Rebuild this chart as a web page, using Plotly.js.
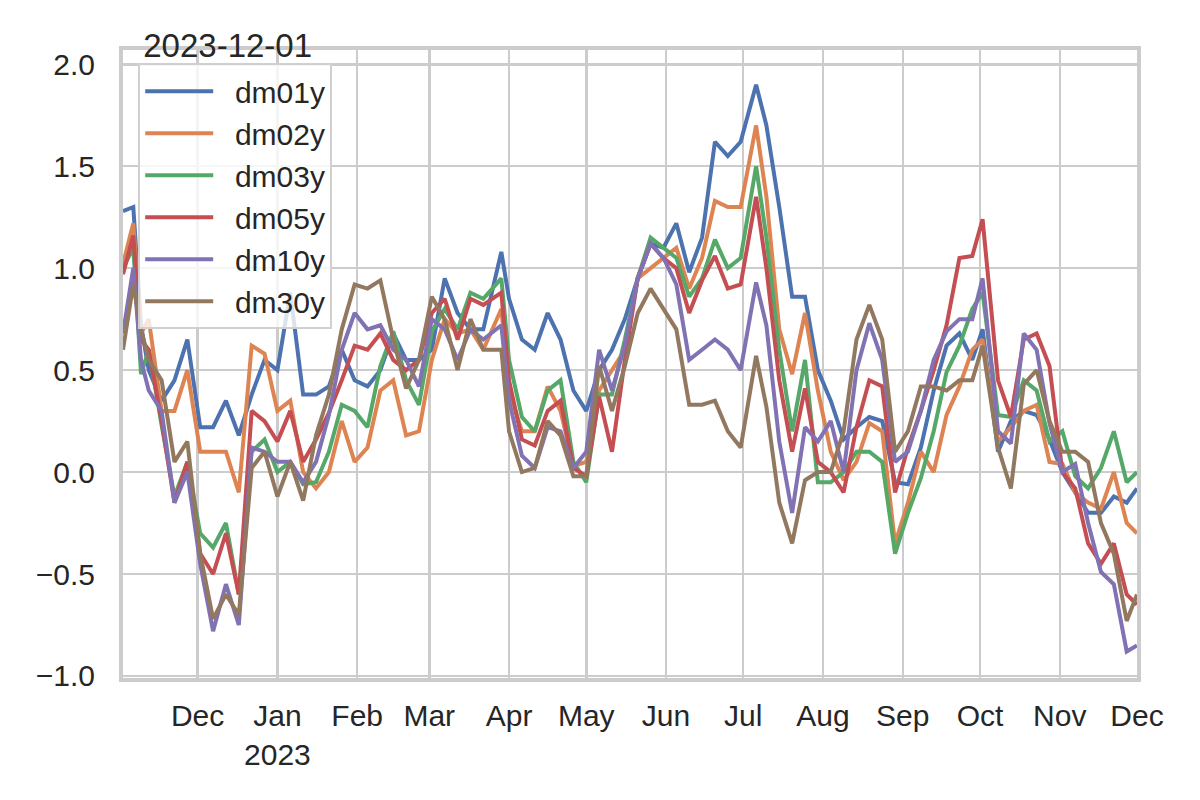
<!DOCTYPE html>
<html>
<head>
<meta charset="utf-8">
<script src="https://cdn.plot.ly/plotly-3.0.1.min.js"></script>
<style>
	html, body { margin: 0; padding: 0; background: #ffffff; }
	#chart { width: 1200px; height: 800px; }
</style>
</head>
<body>
<div id="chart"></div>
<script>
'use strict';

// sample dates (roughly every 5 days)
var dates = ['2022-11-02', '2022-11-06', '2022-11-09', '2022-11-12', '2022-11-17', '2022-11-22', '2022-11-27',
	'2022-12-02', '2022-12-07', '2022-12-12', '2022-12-17', '2022-12-22', '2022-12-27',
	'2023-01-01', '2023-01-06', '2023-01-11', '2023-01-16', '2023-01-21', '2023-01-26', '2023-01-31',
	'2023-02-05', '2023-02-10', '2023-02-15', '2023-02-20', '2023-02-25',
	'2023-03-02', '2023-03-07', '2023-03-12', '2023-03-17', '2023-03-22', '2023-03-29',
	'2023-04-01', '2023-04-06', '2023-04-11', '2023-04-16', '2023-04-21', '2023-04-26',
	'2023-05-01', '2023-05-06', '2023-05-11', '2023-05-16', '2023-05-21', '2023-05-26', '2023-05-31',
	'2023-06-05', '2023-06-10', '2023-06-15', '2023-06-20', '2023-06-25', '2023-06-30',
	'2023-07-06', '2023-07-10', '2023-07-15', '2023-07-20', '2023-07-25', '2023-07-30',
	'2023-08-04', '2023-08-09', '2023-08-14', '2023-08-19', '2023-08-24', '2023-08-29',
	'2023-09-03', '2023-09-08', '2023-09-13', '2023-09-18', '2023-09-23', '2023-09-28',
	'2023-10-02', '2023-10-08', '2023-10-13', '2023-10-18', '2023-10-23', '2023-10-28',
	'2023-11-02', '2023-11-07', '2023-11-12', '2023-11-17', '2023-11-22', '2023-11-27', '2023-12-01'];

var dm01y = [1.28, 1.3, 0.72, 0.5, 0.35, 0.45, 0.65,
	0.22, 0.22, 0.35, 0.18, 0.38, 0.55,
	0.5, 0.88, 0.38, 0.38, 0.42, 0.6, 0.45,
	0.42, 0.5, 0.68, 0.55, 0.55,
	0.6, 0.95, 0.78, 0.7, 0.7, 1.08,
	0.85, 0.65, 0.6, 0.78, 0.65, 0.4,
	0.3, 0.5, 0.6, 0.75, 0.95, 1.12, 1.1,
	1.22, 0.98, 1.15, 1.62, 1.55, 1.62,
	1.9, 1.7, 1.3, 0.86, 0.86, 0.5,
	0.35, 0.16, 0.22, 0.27, 0.25, -0.05,
	-0.06, 0.12, 0.4, 0.62, 0.68, 0.55,
	0.7, 0.1, 0.25, 0.3, 0.28, 0.16,
	0.0, -0.1, -0.2, -0.2, -0.12, -0.15, -0.08];

var dm02y = [1.02, 1.22, 0.68, 0.75, 0.3, 0.3, 0.5,
	0.1, 0.1, 0.1, -0.1, 0.62, 0.58,
	0.3, 0.35, 0.0, -0.08, 0.0, 0.25, 0.05,
	0.12, 0.4, 0.45, 0.18, 0.2,
	0.55, 0.75, 0.68, 0.7, 0.6, 0.8,
	0.4, 0.2, 0.2, 0.42, 0.3, 0.03,
	0.05, 0.4, 0.5, 0.6, 0.95, 1.0, 1.05,
	1.1, 0.9, 1.05, 1.33, 1.3, 1.3,
	1.7, 1.35, 0.7, 0.48, 0.78, 0.4,
	0.1, -0.04, 0.05, 0.24, 0.2, -0.35,
	-0.15, 0.1, 0.0, 0.28, 0.42, 0.6,
	0.65, 0.15, 0.22, 0.3, 0.33, 0.05,
	0.04, -0.1, -0.15, -0.18, 0.0, -0.25, -0.3];

var dm03y = [1.0, 1.1, 0.48, 0.6, 0.23, -0.12, 0.05,
	-0.3, -0.37, -0.25, -0.6, 0.1, 0.16,
	0.0, 0.05, -0.06, -0.05, 0.1, 0.33, 0.3,
	0.22, 0.52, 0.69, 0.45, 0.33,
	0.69, 0.8, 0.7, 0.88, 0.85, 0.95,
	0.55, 0.27, 0.2, 0.4, 0.45, 0.05,
	-0.05, 0.38, 0.38, 0.65, 0.95, 1.15, 1.1,
	1.05, 0.86, 0.95, 1.14, 1.0, 1.05,
	1.5, 1.15, 0.6, 0.2, 0.55, -0.05,
	-0.05, 0.0, 0.1, 0.1, 0.05, -0.4,
	-0.2, -0.03, 0.2, 0.49, 0.62, 0.8,
	0.88, 0.28, 0.27, 0.45, 0.4, 0.15,
	0.2, -0.02, -0.08, 0.02, 0.2, -0.05, 0.0];

var dm05y = [0.97, 1.16, 0.65, 0.6, 0.25, -0.15, 0.05,
	-0.4, -0.5, -0.3, -0.6, 0.3, 0.25,
	0.15, 0.3, 0.05, 0.16, 0.29, 0.45, 0.62,
	0.6, 0.68, 0.55, 0.5, 0.55,
	0.78, 0.85, 0.65, 0.85, 0.82, 0.88,
	0.45, 0.16, 0.13, 0.3, 0.35, 0.02,
	-0.02, 0.37, 0.1, 0.55, 0.95, 1.12, 1.05,
	1.0, 0.78, 0.94, 1.06, 0.9, 0.92,
	1.35, 1.0, 0.45, 0.1, 0.41, 0.05,
	0.0, -0.1, 0.22, 0.45, 0.42, -0.1,
	0.12, 0.3, 0.5, 0.72, 1.05, 1.06,
	1.24, 0.45, 0.27, 0.65, 0.68, 0.52,
	0.0, -0.08, -0.35, -0.45, -0.35, -0.6, -0.65];

var dm10y = [0.68, 1.0, 0.55, 0.4, 0.3, -0.15, 0.0,
	-0.45, -0.78, -0.55, -0.75, 0.12, 0.1,
	0.05, 0.05, -0.05, 0.05, 0.28, 0.6, 0.78,
	0.7, 0.72, 0.6, 0.55, 0.42,
	0.75, 0.7, 0.55, 0.7, 0.65, 0.72,
	0.35, 0.08, 0.02, 0.22, 0.2, 0.02,
	0.1, 0.6, 0.4, 0.62, 0.95, 1.12, 1.05,
	0.92, 0.55, 0.6, 0.65, 0.6, 0.5,
	0.93, 0.72, 0.15, -0.2, 0.22, 0.15,
	0.25, 0.0, 0.5, 0.73, 0.55, 0.05,
	0.1, 0.3, 0.55, 0.69, 0.75, 0.75,
	0.95, 0.2, 0.14, 0.68, 0.6, 0.24,
	0.0, 0.04, -0.25, -0.49, -0.55, -0.88, -0.85];

var dm30y = [0.6, 0.92, 0.7, 0.55, 0.45, 0.05, 0.15,
	-0.4, -0.72, -0.6, -0.7, 0.02, 0.1,
	-0.12, 0.05, -0.14, 0.18, 0.38, 0.7, 0.92,
	0.9, 0.94, 0.65, 0.41, 0.55,
	0.86, 0.75, 0.5, 0.75, 0.6, 0.6,
	0.2, 0.0, 0.02, 0.25, 0.18, -0.02,
	-0.02, 0.52, 0.3, 0.52, 0.78, 0.9, 0.8,
	0.7, 0.33, 0.33, 0.35, 0.2, 0.12,
	0.57, 0.32, -0.15, -0.35, -0.04, 0.0,
	0.0, 0.2, 0.65, 0.82, 0.65, 0.1,
	0.2, 0.42, 0.42, 0.4, 0.45, 0.45,
	0.62, 0.12, -0.08, 0.43, 0.5, 0.25,
	0.1, 0.1, 0.05, -0.25, -0.4, -0.73, -0.6];

var seriesNames = ['dm01y', 'dm02y', 'dm03y', 'dm05y', 'dm10y', 'dm30y'];
var seriesValues = [dm01y, dm02y, dm03y, dm05y, dm10y, dm30y];

// month ticks
var xTickVals = ['2022-12-01', '2023-01-01', '2023-02-01', '2023-03-01', '2023-04-01', '2023-05-01', '2023-06-01',
	'2023-07-01', '2023-08-01', '2023-09-01', '2023-10-01', '2023-11-01', '2023-12-01'];
var xTickText = ['Dec', 'Jan<br>2023', 'Feb', 'Mar', 'Apr', 'May', 'Jun', 'Jul', 'Aug', 'Sep', 'Oct', 'Nov', 'Dec'];
var yTickVals = [-1.0, -0.5, 0.0, 0.5, 1.0, 1.5, 2.0];
var yTickText = ['\u22121.0', '\u22120.5', '0.0', '0.5', '1.0', '1.5', '2.0'];

// seaborn "deep" palette
var colors = ['#4c72b0', '#dd8452', '#55a868', '#c44e52', '#8172b3', '#937860'];

var createChart = function () {
	var traces = seriesNames.map(function (name, i) {
		return {
			x: dates,
			y: seriesValues[i],
			// two no-break spaces open a gap between legend line and text
			name: '\u00a0\u00a0' + name,
			type: 'scatter',
			mode: 'lines',
			line: { color: colors[i], width: 4 },
			hoverinfo: 'none',
		};
	});

	var fontFamily = '"Liberation Sans", Arial, sans-serif';

	var layout = {
		width: 1200,
		height: 800,
		margin: { l: 123, r: 63, t: 50, b: 122, pad: 0 },
		paper_bgcolor: '#ffffff',
		plot_bgcolor: '#ffffff',
		font: { family: fontFamily, size: 30, color: '#262626' },
		title: {
			text: '2023-12-01',
			font: { family: fontFamily, size: 33, color: '#262626' },
			xref: 'paper',
			x: 0.02,
			xanchor: 'left',
			yref: 'container',
			y: 0.943,
			yanchor: 'middle',
		},
		showlegend: true,
		legend: {
			x: 0.015,
			y: 0.979,
			xanchor: 'left',
			yanchor: 'top',
			bgcolor: 'rgba(255,255,255,0.8)',
			bordercolor: '#d0d0d0',
			borderwidth: 2,
			font: { family: fontFamily, size: 30, color: '#262626' },
			itemwidth: 68,
		},
		xaxis: {
			type: 'date',
			range: ['2022-11-02', '2023-12-01'],
			tickmode: 'array',
			tickvals: xTickVals,
			ticktext: xTickText,
			ticks: '',
			ticklabelstandoff: 8,
			showgrid: true,
			gridcolor: '#cccccc',
			gridwidth: 2.5,
			zeroline: false,
			showline: true,
			linecolor: '#cccccc',
			linewidth: 4,
			mirror: true,
			tickfont: { family: fontFamily, size: 30, color: '#262626' },
		},
		yaxis: {
			range: [-1.01, 2.07],
			tickmode: 'array',
			tickvals: yTickVals,
			ticktext: yTickText,
			ticks: '',
			ticklabelstandoff: 18,
			showgrid: true,
			gridcolor: '#cccccc',
			gridwidth: 2.5,
			zeroline: false,
			showline: true,
			linecolor: '#cccccc',
			linewidth: 4,
			mirror: true,
			tickfont: { family: fontFamily, size: 30, color: '#262626' },
		},
	};

	var config = { staticPlot: true, displayModeBar: false };
	Plotly.newPlot('chart', traces, layout, config);
};

document.addEventListener('DOMContentLoaded', createChart);
</script>
</body>
</html>
